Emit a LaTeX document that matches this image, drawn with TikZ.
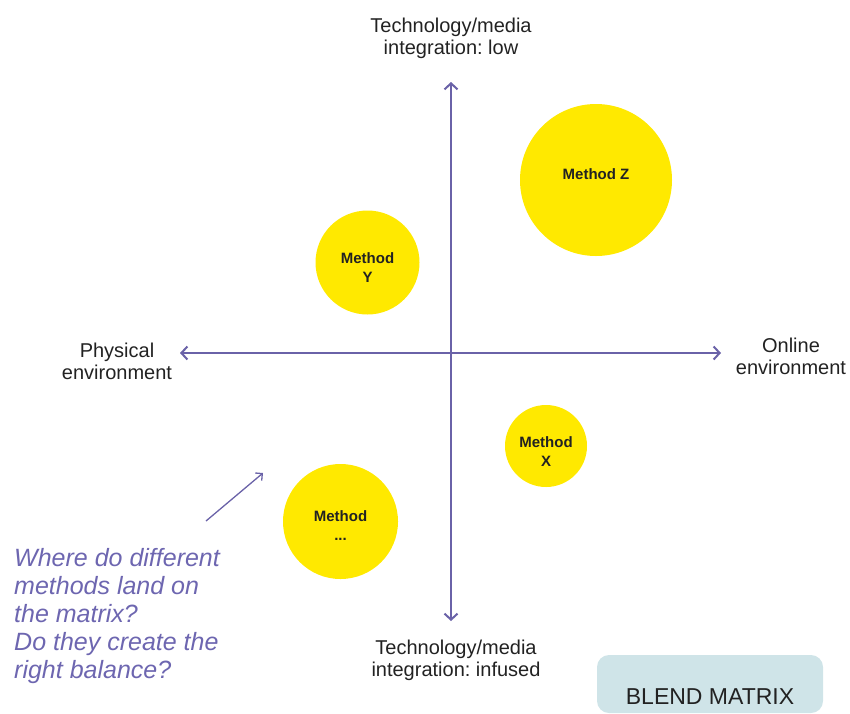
\documentclass[tikz,border=0pt]{standalone}
\usepackage{fontspec}
\setmainfont{Liberation Sans}
\usetikzlibrary{arrows.meta}
\frenchspacing

\definecolor{axispurple}{HTML}{6A62A8}
\definecolor{notepurple}{HTML}{6D66B0}
\definecolor{methodyellow}{HTML}{FFE900}
\definecolor{badgeblue}{HTML}{CFE4E8}
\definecolor{inkgray}{HTML}{222222}

\begin{document}
\begin{tikzpicture}[x=1pt,y=-1pt,
  axis/.style={line width=2pt, axispurple, {Straight Barb[length=6pt,width=13pt]}-{Straight Barb[length=6pt,width=13pt]}},
  method/.style={circle, fill=methodyellow, inner sep=0pt},
  methodtext/.style={align=center, inner sep=0pt, text=inkgray, font=\fontsize{15}{19}\selectfont\bfseries},
  axislabel/.style={align=center, inner sep=0pt, text=inkgray, font=\fontsize{20}{22}\selectfont},
]

\useasboundingbox (0,0) rectangle (850,713);

% axes
\coordinate (top) at (451,82);
\coordinate (bottom) at (451,621);
\coordinate (left) at (180,353);
\coordinate (right) at (721,353);

\draw[axis] (bottom) -- (top);
\draw[axis] (left) -- (right);

\node[axislabel] (low) at (451,38) {Technology/media\\integration: low};
\node[axislabel] (infused) at (456,660) {Technology/media\\integration: infused};
\node[axislabel] (physical) at (117,361) {Physical\\environment};
\node[axislabel] (online) at (791,356) {Online\\environment};

% methods
\node[method, minimum size=152] (methodZ) at (596,180) {};
\node[method, minimum size=104] (methodY) at (367.5,262.5) {};
\node[method, minimum size=82] (methodX) at (546,446) {};
\node[method, minimum size=115] (methodDots) at (340.5,521.5) {};

\node[methodtext] (labelZ) at (596,174.5) {Method Z};
\node[methodtext] (labelY) at (367.5,268) {Method\\Y};
\node[methodtext] (labelX) at (546,451.5) {Method\\X};
\node[methodtext] (labelDots) at (340.5,526) {Method\\...};

% note
\coordinate (noteTail) at (206,521);
\coordinate (noteHead) at (263,473);
\draw[line width=1.3pt, axispurple, -{Straight Barb[length=5pt,width=10pt]}] (noteTail) -- (noteHead);

\node[anchor=north west, align=left, inner sep=0pt, text=notepurple,
  font=\fontsize{25}{28}\selectfont\itshape] (question) at (14,548)
  {Where do different\\methods land on\\the matrix?\\Do they create the\\right balance?};

\fill[badgeblue, rounded corners=12pt] (597,655) rectangle (823,713);
\node[text=inkgray, font=\fontsize{23}{26}\selectfont] (blend) at (710,697) {BLEND MATRIX};

\end{tikzpicture}
\end{document}
